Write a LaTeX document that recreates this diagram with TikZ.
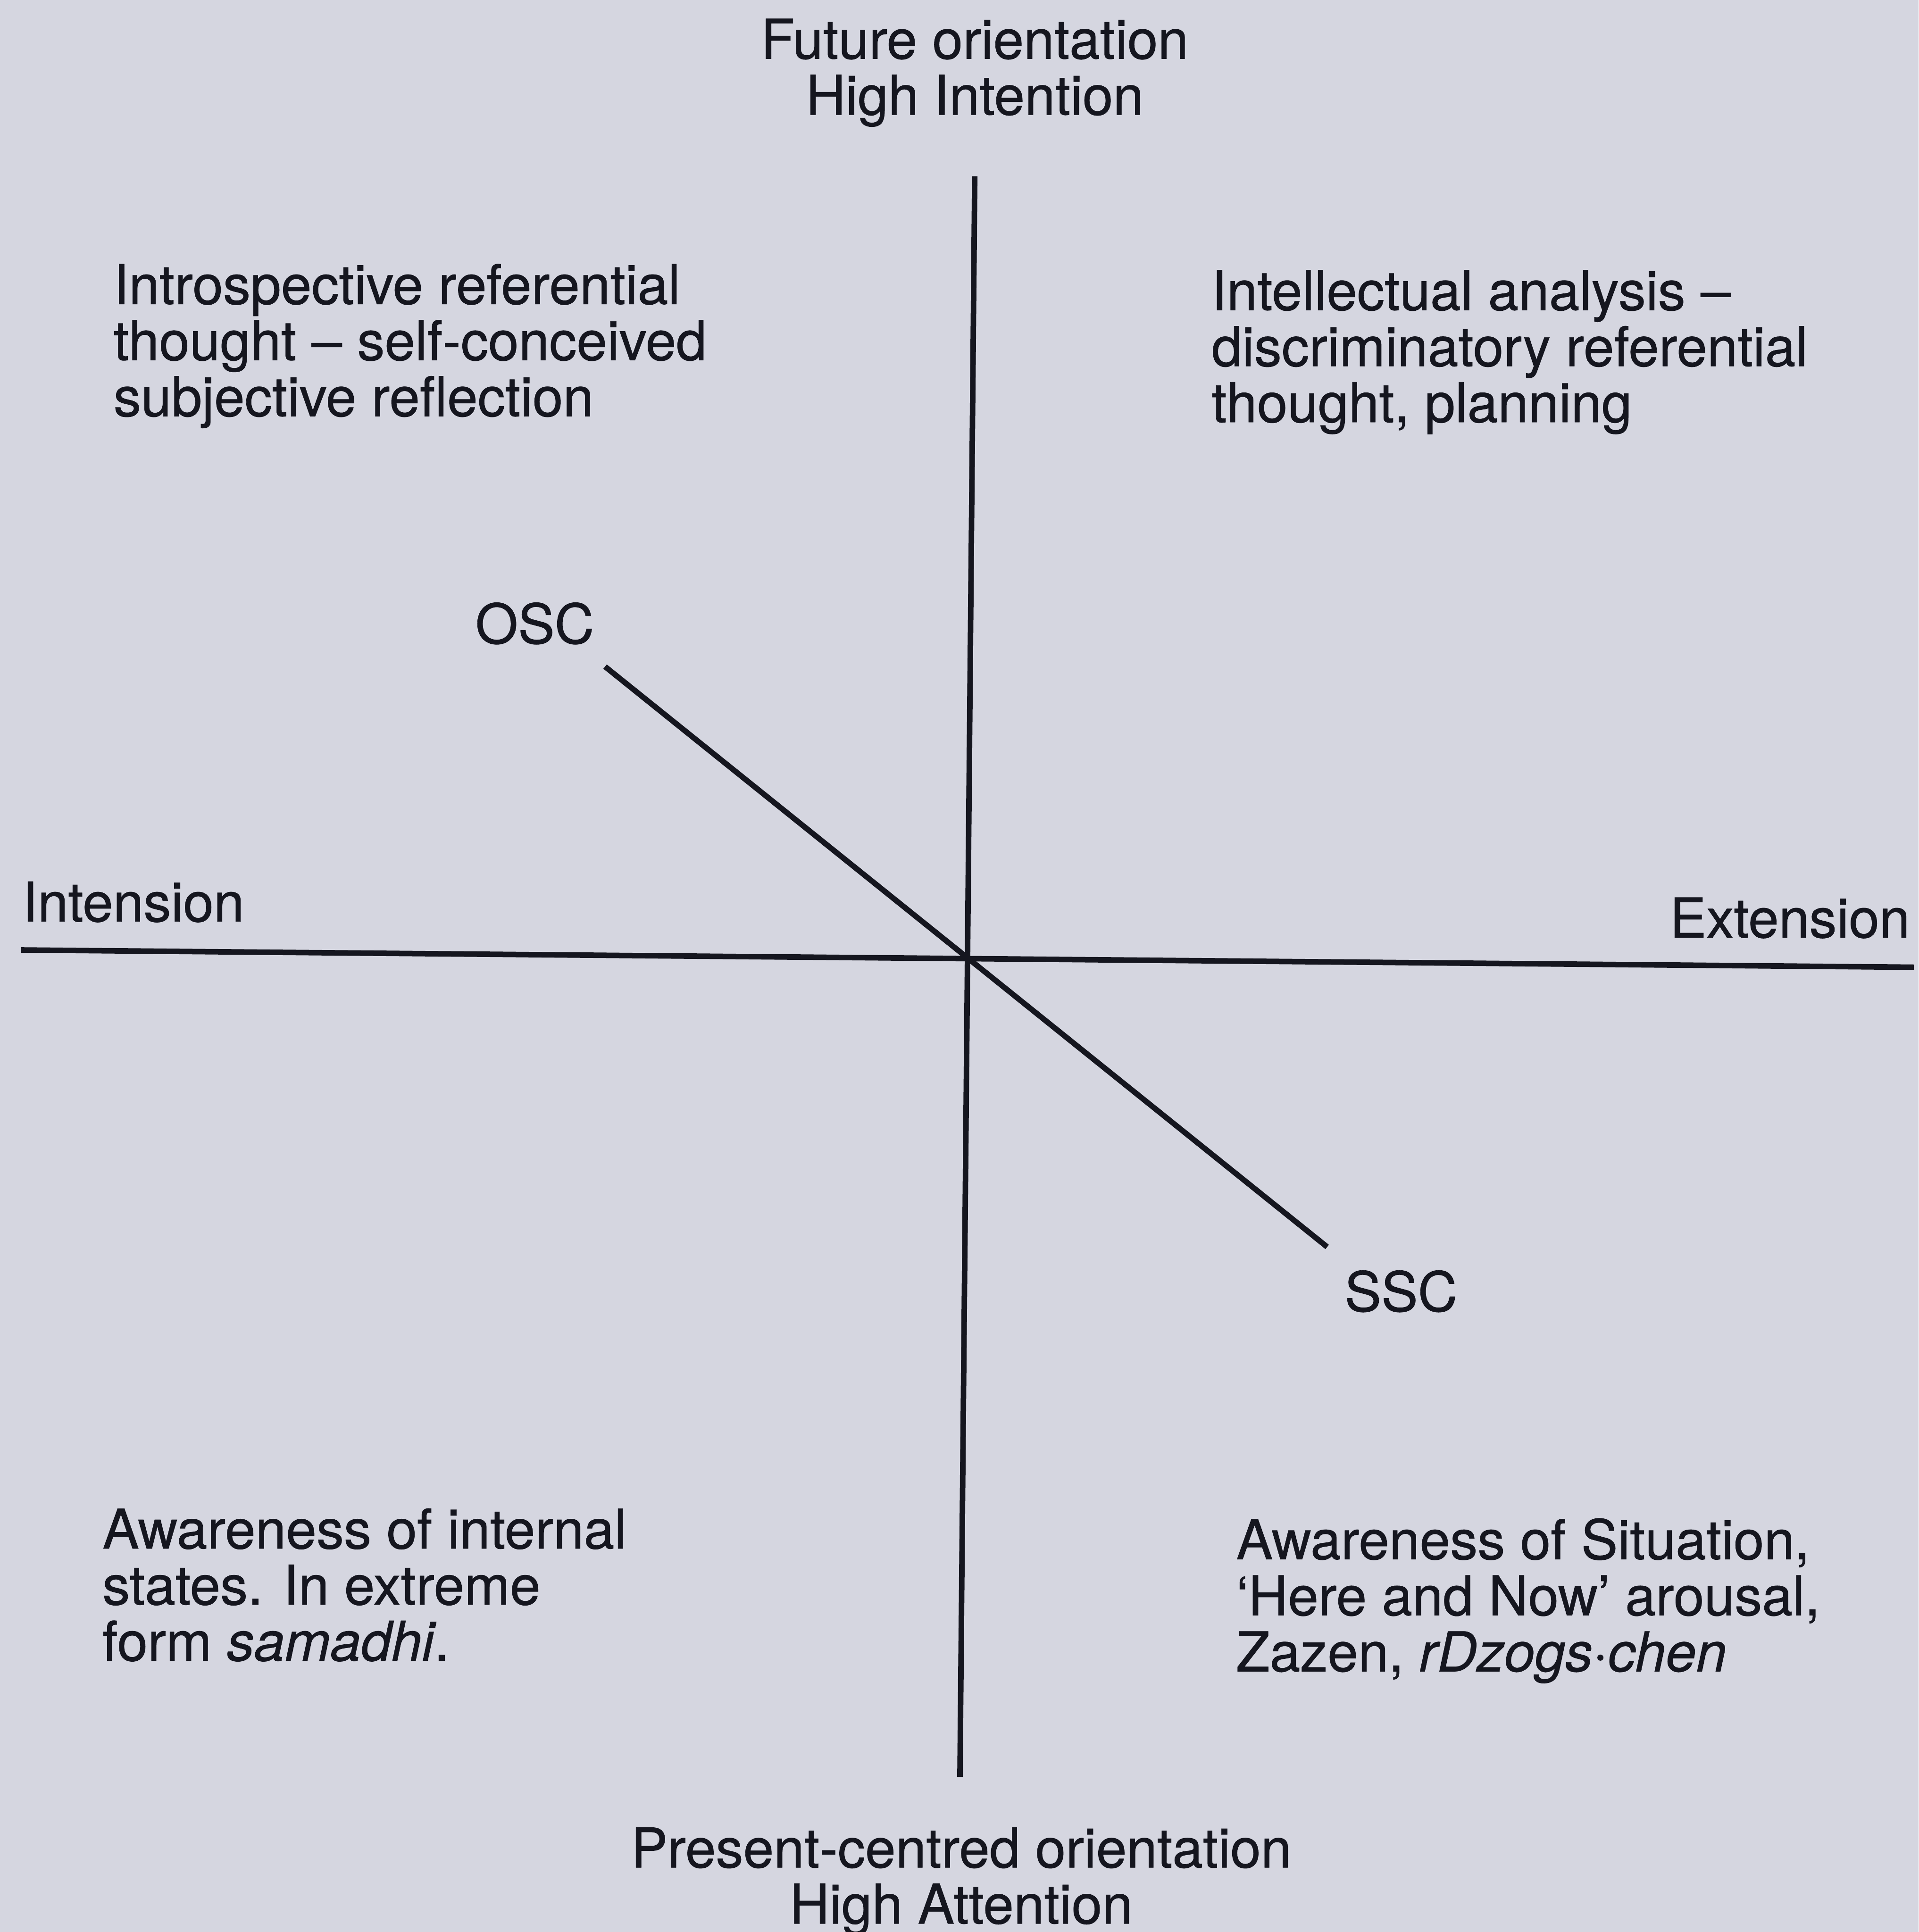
\documentclass[tikz,border=0pt]{standalone}
\usepackage{fontspec}
\setmainfont{TeX Gyre Heros}[UprightFeatures={FakeBold=0.7}, ItalicFeatures={FakeBold=0.7}]
\usepackage{xcolor}
\usepackage{tikz}
\usetikzlibrary{positioning}
\definecolor{paper}{HTML}{D5D6E0}
\definecolor{ink}{HTML}{15161F}

\tikzset{
  axisline/.style={draw=ink, line width=4.5pt},
  quadtext/.style={text=ink, inner sep=0pt, align=left, anchor=north west,
                   font=\fontsize{44.5}{45.5}\selectfont},
  axislabel/.style={text=ink, inner sep=0pt, align=center,
                    font=\fontsize{44.5}{45.5}\selectfont}
}

\begin{document}
\begin{tikzpicture}[x=1pt, y=-1pt]
  \fill[paper] (0,0) rectangle (1557,1568);
  \useasboundingbox (0,0) rectangle (1557,1568);

  % axes
  \coordinate (axtop) at (791,143);
  \coordinate (axbot) at (779,1442);
  \coordinate (axleft) at (17,771);
  \coordinate (axright) at (1553,785);
  \coordinate (oscend) at (491,541);
  \coordinate (sscend) at (1077,1012);
  \draw[axisline] (axtop) -- (axbot);
  \draw[axisline] (axleft) -- (axright);
  \draw[axisline] (oscend) -- (sscend);

  % axis labels
  \node[axislabel, anchor=north] (future) at (791,15)
    {Future orientation\\High Intention};
  \node[axislabel, anchor=north] (present) at (780,1483)
    {Present-centred orientation\\High Attention};
  \node[axislabel, anchor=west] (intension) at (18,732) {Intension};
  \node[axislabel, anchor=east] (extension) at (1550,745) {Extension};
  \node[axislabel] (osc) at (434,506) {OSC};
  \node[axislabel] (ssc) at (1137,1048) {SSC};

  % quadrants
  \node[quadtext] (introspect) at (92,214)
    {Introspective referential\\thought -- self-conceived\\subjective reflection};
  \node[quadtext] (intellect) at (983,219)
    {Intellectual analysis --\\discriminatory referential\\thought, planning};
  \node[quadtext] (internal) at (83,1224)
    {Awareness of internal\\states. In extreme\\form \textit{samadhi}.};
  \node[quadtext] (situation) at (1003,1232)
    {Awareness of Situation,\\`Here and Now' arousal,\\Zazen, \textit{rDzogs·chen}};
\end{tikzpicture}
\end{document}
